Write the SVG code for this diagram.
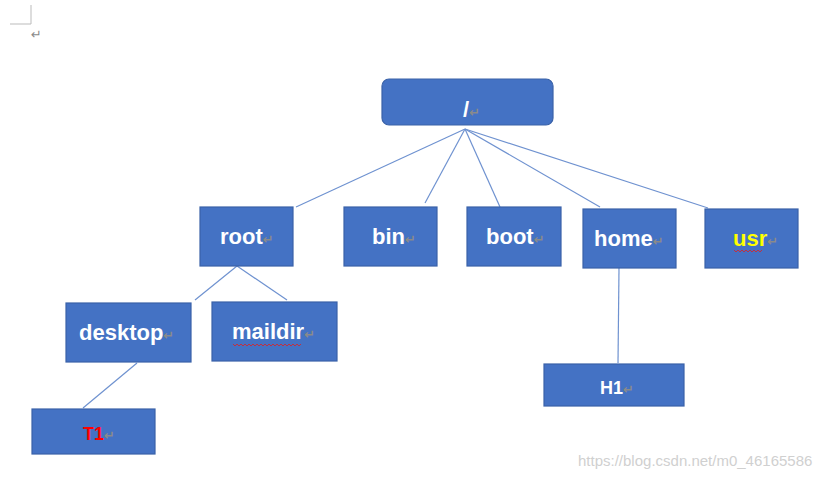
<svg xmlns="http://www.w3.org/2000/svg" width="831" height="478" viewBox="0 0 831 478">
<style>
.n{fill:#4472c4;stroke:#3a62a8;stroke-width:1.2}
.t{font-family:"Liberation Sans",Arial,sans-serif;font-weight:bold;font-size:22px;fill:#fff}
.s{font-size:18px}
.r{font-family:"DejaVu Sans",sans-serif;font-size:13px;fill:#8a8a8a}
.c line{stroke:#6f92d0;stroke-width:1.2}
</style>
<rect width="831" height="478" fill="#fff"/>
<path d="M10 24H31V5" fill="none" stroke="#bbb"/>
<text x="31" y="39" class="r" font-size="10">↵</text>
<g class="c">
<line x1="465" y1="129" x2="296" y2="207"/>
<line x1="465" y1="129" x2="425" y2="203"/>
<line x1="465" y1="129" x2="500" y2="207"/>
<line x1="465" y1="129" x2="600" y2="207"/>
<line x1="465" y1="129" x2="708" y2="208"/>
<line x1="237" y1="266" x2="195" y2="300"/>
<line x1="237" y1="266" x2="287" y2="300"/>
<line x1="137" y1="363" x2="83" y2="408"/>
<line x1="619" y1="268" x2="618" y2="363"/>
</g>
<g id="slash"><rect class="n" x="382" y="79" width="171" height="46" rx="7"/><text class="t" x="463" y="117">/<tspan class="r">↵</tspan></text></g>
<g id="root"><rect class="n" x="200" y="207" width="93" height="59"/><text class="t" x="220" y="244">root<tspan class="r">↵</tspan></text></g>
<g id="bin"><rect class="n" x="344" y="207" width="93" height="59"/><text class="t" x="372" y="244">bin<tspan class="r">↵</tspan></text></g>
<g id="boot"><rect class="n" x="467" y="207" width="94" height="59"/><text class="t" x="486" y="244">boot<tspan class="r">↵</tspan></text></g>
<g id="home"><rect class="n" x="583" y="209" width="93" height="59"/><text class="t" x="594" y="246">home<tspan class="r">↵</tspan></text></g>
<g id="usr"><rect class="n" x="705" y="209" width="93" height="59"/><text class="t" x="733" y="246" style="fill:#ffff00">usr<tspan class="r">↵</tspan></text><path d="M734 250l2 2 2-2 2 2 2-2 2 2 2-2 2 2 2-2 2 2 2-2 2 2 2-2 2 2 2-2" fill="none" stroke="#e02020" stroke-width="0.8"/></g>
<g id="desktop"><rect class="n" x="66" y="303" width="125" height="59"/><text class="t" x="79" y="340">desktop<tspan class="r">↵</tspan></text></g>
<g id="maildir"><rect class="n" x="212" y="302" width="125" height="59"/><text class="t" x="232" y="339">maildir<tspan class="r">↵</tspan></text><path d="M233 344l2 2 2-2 2 2 2-2 2 2 2-2 2 2 2-2 2 2 2-2 2 2 2-2 2 2 2-2 2 2 2-2 2 2 2-2 2 2 2-2 2 2 2-2 2 2 2-2 2 2 2-2 2 2 2-2 2 2 2-2 2 2 2-2 2 2 2-2" fill="none" stroke="#e02020" stroke-width="0.8"/></g>
<g id="T1"><rect class="n" x="32" y="409" width="123" height="45"/><text class="t s" x="83" y="440" style="fill:#ff0000">T1<tspan class="r">↵</tspan></text></g>
<g id="H1"><rect class="n" x="544" y="364" width="140" height="42"/><text class="t s" x="600" y="394">H1<tspan class="r">↵</tspan></text></g>
<text x="578" y="466" font-family="Liberation Sans Narrow,Liberation Sans,sans-serif" font-size="15" fill="#d0d0d0">https://blog.csdn.net/m0_46165586</text>
</svg>
